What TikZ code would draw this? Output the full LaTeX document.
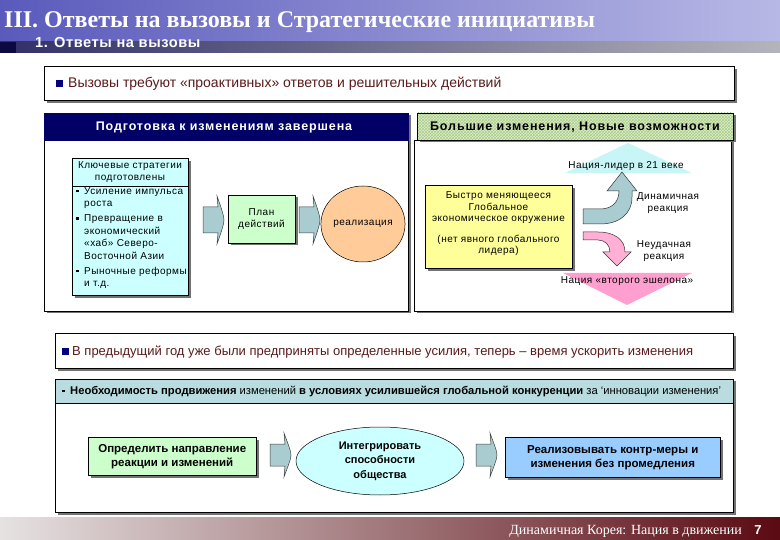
\documentclass[tikz,border=0pt]{standalone}
\usepackage{fontspec}
\setmainfont{Liberation Sans}
\newfontfamily\serifr{Liberation Serif}
\newfontfamily\spf[LetterSpace=5]{Liberation Sans}
\newfontfamily\spw[LetterSpace=7]{Liberation Sans}
\newfontfamily\sps[LetterSpace=4]{Liberation Sans}
\usetikzlibrary{shapes.geometric,shadows,patterns}

\definecolor{titleL}{HTML}{5A5ABC}
\definecolor{titleR}{HTML}{B8B8E6}
\definecolor{barL}{HTML}{303068}
\definecolor{barR}{HTML}{B4B4BC}
\definecolor{barD}{HTML}{0A0A40}
\definecolor{navyc}{HTML}{000066}
\definecolor{bulnavy}{HTML}{000080}
\definecolor{maroonc}{HTML}{5A1A1A}
\definecolor{cyanbox}{HTML}{CCFFFF}
\definecolor{greenbox}{HTML}{CCFFCC}
\definecolor{peach}{HTML}{FFCC99}
\definecolor{arrowc}{HTML}{A8CCD0}
\definecolor{yellowbox}{HTML}{FFFF99}
\definecolor{pinktri}{HTML}{FF9FD0}
\definecolor{pinkarr}{HTML}{FFB0D4}
\definecolor{uptri}{HTML}{C8F6F6}
\definecolor{tealstrip}{HTML}{B8DCE0}
\definecolor{bluebox}{HTML}{99CCFF}
\definecolor{hatchbg}{HTML}{DDEFC8}
\definecolor{hatchln}{HTML}{A9CC8C}
\definecolor{footL}{HTML}{E6E2E2}
\definecolor{footM}{HTML}{B8A8A8}
\definecolor{footR}{HTML}{5A0A12}

\tikzset{
  shd/.style={drop shadow={shadow xshift=2.5pt,shadow yshift=-2.5pt,fill=black!55,opacity=1}},
  framebox/.style={draw=black,line width=0.6pt,fill=white,shd},
  colbox/.style={draw=black,line width=0.5pt,shd,inner sep=0pt,align=center},
  txt/.style={inner sep=0pt,align=center},
  small/.style={font=\spf\fontsize{10}{12.5}\selectfont},
  pics/barrow/.style={code={
    \draw[fill=arrowc,draw=black!75,line width=0.5pt]
      (0,-#1) -- (15,-#1) -- (14,-#1-11) .. controls (18,-#1) and (21,-4) .. (21,0)
      .. controls (21,4) and (18,#1) .. (14,#1+11) -- (15,#1) -- (0,#1) -- cycle;
  }}
}
\newcommand\bul{\makebox[8pt][l]{\raisebox{1.6pt}{\rule{2.8pt}{2.8pt}}}}

\begin{document}
\begin{tikzpicture}[x=1pt,y=-1pt]
\useasboundingbox (0,0) rectangle (780,540);
\fill[white] (0,0) rectangle (780,540);

% ---- title band
\shade[left color=titleL,right color=titleR] (0,0) rectangle (780,42);
\shade[left color=barL,right color=barR] (0,42) rectangle (780,53);
\fill[barD] (0,42) rectangle (16,53);
\node[anchor=base west,inner sep=0pt,text=white,font=\serifr\bfseries\fontsize{24}{24}\selectfont] (title) at (4,28) {III. Ответы на вызовы и Стратегические инициативы};
\node[anchor=base west,inner sep=0pt,text=white,font=\sps\bfseries\fontsize{14.6}{14.6}\selectfont] (subtitle) at (35,47.5) {1. Ответы на вызовы};

% ---- box 1
\node[framebox,anchor=north west,minimum width=690pt,minimum height=34pt,inner sep=0pt] (box1) at (44,66) {};
\fill[bulnavy] (56,80) rectangle (63,87);
\node[anchor=west,inner sep=0pt,text=maroonc,font=\fontsize{14}{15}\selectfont] (box1t) at (68,84) {Вызовы требуют «проактивных» ответов и решительных действий};

% ---- left panel
\draw[framebox] (44,113) rectangle (408,311);
\fill[navyc] (44,113) rectangle (409,141);
\node[txt,text=white,font=\spw\bfseries\fontsize{12.5}{14}\selectfont] (lhead) at (224,127) {Подготовка к изменениям завершена};

\node[colbox,fill=cyanbox,anchor=north west,minimum width=116pt,minimum height=137pt] (kbox) at (72,158) {};
\draw[line width=0.5pt] (72,186) -- (188,186);
\node[txt,small] (ktitle) at (130,172) {Ключевые стратегии\\подготовлены};
\node[inner sep=0pt,anchor=north west,align=left,small] (klist) at (76,187)
 {\bul Усиление импульса\\ \hspace*{8pt}роста\\[2.5pt]
  \bul Превращение в\\ \hspace*{8pt}экономический\\ \hspace*{8pt}«хаб» Северо-\\ \hspace*{8pt}Восточной Азии\\[2.5pt]
  \bul Рыночные реформы\\ \hspace*{8pt}и т.д.};

\pic at (203,220) {barrow=13};
\node[colbox,fill=greenbox,minimum width=67pt,minimum height=48pt,small] (plan) at (261.5,219) {План\\действий};
\pic at (299,220) {barrow=13};
\node[ellipse,draw=black,line width=0.5pt,fill=peach,minimum width=80pt,minimum height=76pt,inner sep=0pt,small] (real) at (363,224) {реализация};

% ---- right panel
\draw[framebox] (414,140) rectangle (731,311);
\path[fill=hatchbg,draw=black,line width=0.6pt,shd] (417,113) rectangle (733,140);
\path[pattern=crosshatch,pattern color=hatchln] (417,113) rectangle (733,140);
\draw[line width=0.6pt] (417,113) rectangle (733,140);
\node[txt,font=\spw\bfseries\fontsize{12.5}{14}\selectfont] (rhead) at (575,127) {Большие изменения, Новые возможности};

\fill[uptri] (628,143) -- (692,173) -- (565,173) -- cycle;
\node[txt,small] (leader) at (626,166) {Нация-лидер в 21 веке};

\node[colbox,fill=yellowbox,anchor=north west,minimum width=147pt,minimum height=83pt] (ybox) at (425,185) {};
\node[txt,font=\spf\fontsize{10}{11.5}\selectfont] (ytext) at (498.5,224) {Быстро меняющееся\\Глобальное\\экономическое окружение\\[9pt](нет явного глобального\\лидера)};

\draw[fill=arrowc,draw=black!80,line width=0.5pt]
  (583,209) -- (600,209) .. controls (612,209) and (619,202) .. (619,191)
  -- (607,191) -- (622,172) -- (637,191) -- (632,191) -- (632,197)
  .. controls (632,215) and (618,224) .. (600,224) -- (583,224) -- cycle;
\draw[fill=pinkarr,draw=black!80,line width=0.5pt]
  (583,232) -- (598,232) .. controls (615,232) and (625,240) .. (625,252)
  -- (631,252) -- (617,266) -- (603,252) -- (610,252)
  .. controls (610,245) and (605,240) .. (598,240) -- (583,240) -- cycle;
\node[txt,small] (dyn) at (668,203) {Динамичная\\реакция};
\node[txt,small] (fail) at (664,251) {Неудачная\\реакция};

\fill[pinktri] (563,273) -- (692,273) -- (627,305) -- cycle;
\node[txt,small] (second) at (627,281) {Нация «второго эшелона»};

% ---- box 2
\node[framebox,anchor=north west,minimum width=678pt,minimum height=35pt,inner sep=0pt] (box2) at (55,333) {};
\fill[bulnavy] (62,348) rectangle (69,355);
\node[anchor=west,inner sep=0pt,text=maroonc,font=\fontsize{13}{15}\selectfont] (box2t) at (72,352) {В предыдущий год уже были предприняты определенные усилия, теперь – время ускорить изменения};

% ---- bottom panel
\draw[framebox] (55,379) rectangle (733,512);
\draw[fill=tealstrip,line width=0.5pt] (55,379) rectangle (733,403);
\node[anchor=west,inner sep=0pt,font=\fontsize{11.2}{12}\selectfont] (strip) at (62,391) {\bul\textbf{Необходимость продвижения} изменений \textbf{в условиях усилившейся глобальной конкуренции} за ‘инновации изменения’};

\node[colbox,fill=greenbox,anchor=north west,minimum width=168pt,minimum height=38pt,font=\bfseries\fontsize{11.5}{14}\selectfont] (dir) at (88,437) {Определить направление\\реакции и изменений};
\pic at (270,455) {barrow=11};
\node[ellipse,draw=black,line width=0.5pt,fill=cyanbox,minimum width=168pt,minimum height=68pt,inner sep=0pt,align=center,font=\bfseries\fontsize{11}{14.5}\selectfont] (integ) at (380,461) {Интегрировать\\способности\\общества};
\pic at (476,455) {barrow=11};
\node[colbox,fill=bluebox,anchor=north west,minimum width=215pt,minimum height=40pt,font=\bfseries\fontsize{11.5}{14}\selectfont] (impl) at (505,437) {Реализовывать контр-меры и\\изменения без промедления};

% ---- footer
\shade[left color=footL,middle color=footM,right color=footR] (0,517) rectangle (780,540);
\node[anchor=base east,inner sep=0pt,text=white,font=\serifr\fontsize{14}{14}\selectfont] (foot) at (742,534) {Динамичная Корея: Нация в движении};
\node[anchor=base,inner sep=0pt,text=white,font=\bfseries\fontsize{13}{13}\selectfont] (page) at (758,534) {7};
\end{tikzpicture}
\end{document}
